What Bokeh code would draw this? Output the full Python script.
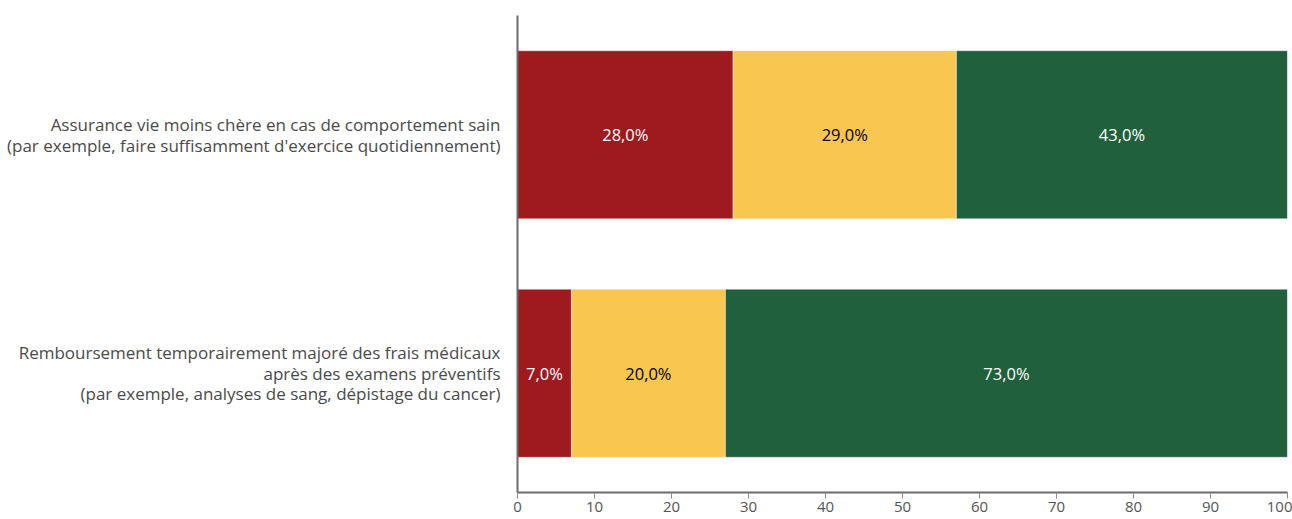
from bokeh.plotting import figure
from bokeh.models import ColumnDataSource, FactorRange, Range1d, FixedTicker
from bokeh.core.properties import value
from bokeh.embed import file_html
from bokeh.resources import INLINE

categories = [
    "Assurance vie moins chère en cas de comportement sain\n(par exemple, faire suffisamment d'exercice quotidiennement)",
    "Remboursement temporairement majoré des frais médicaux\naprès des examens préventifs\n(par exemple, analyses de sang, dépistage du cancer)",
]
series_names = ["non", "indécis", "oui"]
series_colors = ["#9E1A1F", "#F9C750", "#21603D"]
label_colors = ["white", "black", "white"]
values_red = [28.0, 7.0]
values_yellow = [29.0, 20.0]
values_green = [43.0, 73.0]
x_ticks = [0, 10, 20, 30, 40, 50, 60, 70, 80, 90, 100]

series = [values_red, values_yellow, values_green]

p = figure(
    width=1292, height=519,
    y_range=FactorRange(factors=list(reversed(categories))),
    x_range=Range1d(0, 100),
    output_backend="svg", toolbar_location=None,
    min_border_left=517, min_border_right=5, min_border_top=15, min_border_bottom=27,
)
p.outline_line_color = None
p.xgrid.visible = False
p.ygrid.visible = False
p.background_fill_color = "white"
p.border_fill_color = "white"

lefts = [0.0] * len(categories)
for vals, name, col, lcol in zip(series, series_names, series_colors, label_colors):
    rights = [l + v for l, v in zip(lefts, vals)]
    src = ColumnDataSource(dict(
        y=categories, left=lefts, right=rights,
        mid=[(l + r) / 2 for l, r in zip(lefts, rights)],
        txt=[f"{v:.1f}%".replace(".", ",") for v in vals],
    ))
    p.hbar(y="y", left="left", right="right", height=0.705, source=src,
           fill_color=col, line_color="white", line_alpha=0.45, line_width=1)
    p.text(x="mid", y="y", text="txt", source=src, text_align="center",
           text_baseline="middle", text_color=lcol, text_font=value("Open Sans"),
           text_font_size="16.5px")
    lefts = rights

xa = p.xaxis[0]
xa.ticker = FixedTicker(ticks=x_ticks)
xa.axis_line_color = "#6b6b6b"
xa.axis_line_width = 2
xa.major_tick_line_color = "#8a8a8a"
xa.major_tick_out = 6
xa.major_tick_in = 0
xa.minor_tick_line_color = None
xa.major_label_text_font = "Open Sans"
xa.major_label_text_font_size = "15px"
xa.major_label_text_color = "#555555"
xa.major_label_standoff = 3

ya = p.yaxis[0]
ya.axis_line_color = "#6b6b6b"
ya.axis_line_width = 2
ya.major_tick_line_color = None
ya.minor_tick_line_color = None
ya.major_label_text_font = "Open Sans"
ya.major_label_text_font_size = "17px"
ya.major_label_text_color = "#4a4a4a"
ya.major_label_standoff = 11
ya.major_label_text_line_height = 0.9

open("out.html", "w").write(file_html(p, INLINE))
